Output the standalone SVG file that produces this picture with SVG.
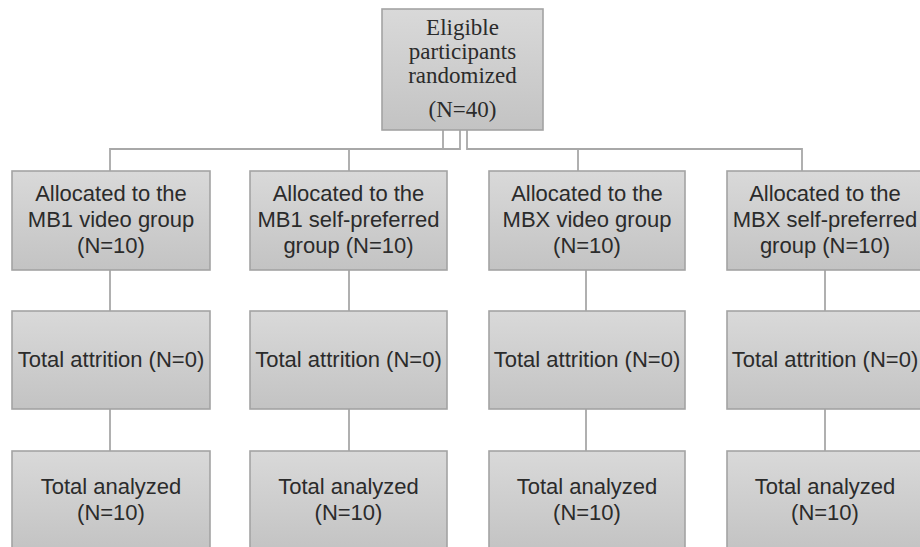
<svg xmlns="http://www.w3.org/2000/svg" width="920" height="547" viewBox="0 0 920 547">
<defs>
<linearGradient id="g" x1="0" y1="0" x2="0" y2="1">
<stop offset="0" stop-color="#d9d9d9"/>
<stop offset="1" stop-color="#c3c3c3"/>
</linearGradient>
<style>
.box{fill:url(#g);stroke:#a3a3a3;stroke-width:1.6}
.c{fill:none;stroke:#a8a8a8;stroke-width:1.8}
.s{font-family:"Liberation Sans",Arial,sans-serif;font-size:22px;fill:#2b2b2b;text-anchor:middle}
.t{font-family:"Liberation Serif","Times New Roman",serif;font-size:23px;fill:#2b2b2b;text-anchor:middle}
</style>
</defs>
<rect width="920" height="547" fill="#fff"/>
<g id="connectors">
<path class="c" d="M443,130V149H110V171"/>
<path class="c" d="M460,130V149H349V171"/>
<path class="c" d="M467,130V149H578V171"/>
<path class="c" d="M467,149H802V171"/>
<path class="c" d="M110,270V311M110,409V451"/>
<path class="c" d="M349,270V311M349,409V451"/>
<path class="c" d="M586,270V311M586,409V451"/>
<path class="c" d="M825,270V311M825,409V451"/>
</g>
<g id="root">
<rect class="box" x="382" y="9" width="161" height="121"/>
<text class="t" x="462.5" y="35">Eligible</text>
<text class="t" x="462.5" y="59">participants</text>
<text class="t" x="462.5" y="83">randomized</text>
<text class="t" x="462.5" y="117">(N=40)</text>
</g>
<g id="alloc1">
<rect class="box" x="12" y="171" width="198" height="99"/>
<text class="s" x="111" y="201">Allocated to the</text>
<text class="s" x="111" y="227">MB1 video group</text>
<text class="s" x="111" y="253">(N=10)</text>
</g>
<g id="alloc2">
<rect class="box" x="250" y="171" width="197" height="99"/>
<text class="s" x="348.5" y="201">Allocated to the</text>
<text class="s" x="348.5" y="227">MB1 self-preferred</text>
<text class="s" x="348.5" y="253">group (N=10)</text>
</g>
<g id="alloc3">
<rect class="box" x="489" y="171" width="196" height="99"/>
<text class="s" x="587" y="201">Allocated to the</text>
<text class="s" x="587" y="227">MBX video group</text>
<text class="s" x="587" y="253">(N=10)</text>
</g>
<g id="alloc4">
<rect class="box" x="727" y="171" width="197" height="99"/>
<text class="s" x="825" y="201">Allocated to the</text>
<text class="s" x="825" y="227">MBX self-preferred</text>
<text class="s" x="825" y="253">group (N=10)</text>
</g>
<g id="attr1">
<rect class="box" x="12" y="311" width="198" height="98"/>
<text class="s" x="111" y="367">Total attrition (N=0)</text>
</g>
<g id="attr2">
<rect class="box" x="250" y="311" width="197" height="98"/>
<text class="s" x="348.5" y="367">Total attrition (N=0)</text>
</g>
<g id="attr3">
<rect class="box" x="489" y="311" width="196" height="98"/>
<text class="s" x="587" y="367">Total attrition (N=0)</text>
</g>
<g id="attr4">
<rect class="box" x="727" y="311" width="197" height="98"/>
<text class="s" x="825" y="367">Total attrition (N=0)</text>
</g>
<g id="anal1">
<rect class="box" x="12" y="451" width="198" height="100"/>
<text class="s" x="111" y="494">Total analyzed</text>
<text class="s" x="111" y="520">(N=10)</text>
</g>
<g id="anal2">
<rect class="box" x="250" y="451" width="197" height="100"/>
<text class="s" x="348.5" y="494">Total analyzed</text>
<text class="s" x="348.5" y="520">(N=10)</text>
</g>
<g id="anal3">
<rect class="box" x="489" y="451" width="196" height="100"/>
<text class="s" x="587" y="494">Total analyzed</text>
<text class="s" x="587" y="520">(N=10)</text>
</g>
<g id="anal4">
<rect class="box" x="727" y="451" width="197" height="100"/>
<text class="s" x="825" y="494">Total analyzed</text>
<text class="s" x="825" y="520">(N=10)</text>
</g>
</svg>
